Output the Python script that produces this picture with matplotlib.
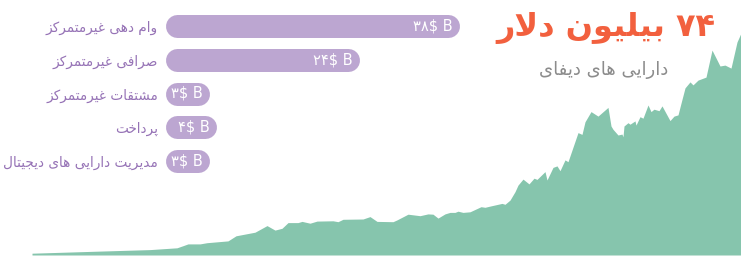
import matplotlib
matplotlib.use("Agg")
import matplotlib.pyplot as plt

# ---------------- data ----------------
# DeFi total value locked over time (time index, billions USD)
time_idx = [0, 68, 118, 145, 151, 156, 168, 175, 196, 204, 223, 235, 243, 250, 256, 266,
            270, 278, 285, 301, 306, 311, 331, 338, 345, 361, 365, 376, 388, 396, 401,
            406, 413, 418, 423, 426, 431, 438, 449, 453, 458, 470, 473, 478, 483, 486,
            491, 497, 502, 505, 513, 515, 521, 525, 528, 533, 536, 546, 550, 553, 559,
            566, 576, 579, 581, 586, 590, 591, 592, 596, 598, 603, 604, 608, 611, 616,
            619, 622, 627, 630, 638, 642, 646, 649, 653, 658, 661, 666, 674, 680, 685,
            688, 693, 699, 705, 709]
tvl = [0.6, 1.3, 1.8, 2.4, 3.1, 3.7, 3.7, 4.1, 4.7, 6.4, 7.6, 9.8, 8.3, 8.9, 10.8, 10.8,
       11.2, 10.6, 11.3, 11.4, 11.1, 11.9, 12.0, 12.8, 11.2, 11.1, 11.7, 13.6, 13.1,
       13.7, 13.6, 12.3, 13.7, 14.2, 14.2, 14.6, 14.2, 14.4, 16.1, 15.9, 16.3, 17.2,
       16.9, 18.3, 21.1, 23.3, 25.3, 23.7, 25.6, 25.2, 27.8, 25.0, 29.2, 29.7, 28.1,
       31.7, 31.1, 40.8, 40.2, 44.4, 47.8, 46.3, 49.2, 43.0, 41.9, 40.0, 40.3, 39.4,
       43.0, 44.1, 43.6, 44.7, 43.3, 46.1, 45.6, 50.0, 47.8, 48.6, 48.1, 49.7, 44.8,
       46.3, 46.7, 50.6, 55.7, 57.7, 56.7, 58.3, 59.3, 68.3, 65.0, 63.0, 63.3, 62.3,
       71.0, 74.0]

categories = ["وام دهی غیرمتمرکز", "صرافی غیرمتمرکز", "مشتقات غیرمتمرکز",
              "پرداخت", "مدیریت دارایی های دیجیتال"]
values = [38, 24, 3, 4, 3]
value_labels = ["۳۸$ B", "۲۴$ B", "۳$ B", "۴$ B", "۳$ B"]

title_text = "۷۴ بیلیون دلار"
subtitle_text = "دارایی های دیفای"

# ---------------- minimal Persian shaping ----------------
FORMS = {
    'ا': ('\uFE8D', '\uFE8E', None, None),
    'آ': ('\uFE81', '\uFE82', None, None),
    'ب': ('\uFE8F', '\uFE90', '\uFE91', '\uFE92'),
    'پ': ('\uFB56', '\uFB57', '\uFB58', '\uFB59'),
    'ت': ('\uFE95', '\uFE96', '\uFE97', '\uFE98'),
    'ث': ('\uFE99', '\uFE9A', '\uFE9B', '\uFE9C'),
    'ج': ('\uFE9D', '\uFE9E', '\uFE9F', '\uFEA0'),
    'چ': ('\uFB7A', '\uFB7B', '\uFB7C', '\uFB7D'),
    'ح': ('\uFEA1', '\uFEA2', '\uFEA3', '\uFEA4'),
    'خ': ('\uFEA5', '\uFEA6', '\uFEA7', '\uFEA8'),
    'د': ('\uFEA9', '\uFEAA', None, None),
    'ذ': ('\uFEAB', '\uFEAC', None, None),
    'ر': ('\uFEAD', '\uFEAE', None, None),
    'ز': ('\uFEAF', '\uFEB0', None, None),
    'ژ': ('\uFB8A', '\uFB8B', None, None),
    'س': ('\uFEB1', '\uFEB2', '\uFEB3', '\uFEB4'),
    'ش': ('\uFEB5', '\uFEB6', '\uFEB7', '\uFEB8'),
    'ص': ('\uFEB9', '\uFEBA', '\uFEBB', '\uFEBC'),
    'ض': ('\uFEBD', '\uFEBE', '\uFEBF', '\uFEC0'),
    'ط': ('\uFEC1', '\uFEC2', '\uFEC3', '\uFEC4'),
    'ظ': ('\uFEC5', '\uFEC6', '\uFEC7', '\uFEC8'),
    'ع': ('\uFEC9', '\uFECA', '\uFECB', '\uFECC'),
    'غ': ('\uFECD', '\uFECE', '\uFECF', '\uFED0'),
    'ف': ('\uFED1', '\uFED2', '\uFED3', '\uFED4'),
    'ق': ('\uFED5', '\uFED6', '\uFED7', '\uFED8'),
    'ک': ('\uFB8E', '\uFB8F', '\uFB90', '\uFB91'),
    'گ': ('\uFB92', '\uFB93', '\uFB94', '\uFB95'),
    'ل': ('\uFEDD', '\uFEDE', '\uFEDF', '\uFEE0'),
    'م': ('\uFEE1', '\uFEE2', '\uFEE3', '\uFEE4'),
    'ن': ('\uFEE5', '\uFEE6', '\uFEE7', '\uFEE8'),
    'ه': ('\uFEE9', '\uFEEA', '\uFEEB', '\uFEEC'),
    'و': ('\uFEED', '\uFEEE', None, None),
    'ی': ('\uFBFC', '\uFBFD', '\uFBFE', '\uFBFF'),
}
DIGITS = set('0123456789۰۱۲۳۴۵۶۷۸۹')


def persian(text):
    ch = list(text)
    n = len(ch)
    res = []
    i = 0
    while i < n:
        c = ch[i]
        if c not in FORMS:
            res.append(c)
            i += 1
            continue
        prev = ch[i - 1] if i > 0 else None
        conn_prev = prev in FORMS and FORMS[prev][2] is not None
        if c == 'ل' and i + 1 < n and ch[i + 1] == 'ا':
            res.append('\uFEFC' if conn_prev else '\uFEFB')
            i += 2
            continue
        nxt = ch[i + 1] if i + 1 < n else None
        conn_next = FORMS[c][2] is not None and nxt in FORMS
        iso, fin, ini, med = FORMS[c]
        if conn_prev and conn_next:
            res.append(med)
        elif conn_prev:
            res.append(fin)
        elif conn_next:
            res.append(ini)
        else:
            res.append(iso)
        i += 1
    res = res[::-1]
    # restore left-to-right order of digit runs
    out = []
    run = []
    for c in res:
        if c in DIGITS:
            run.append(c)
        else:
            out.extend(run[::-1])
            run = []
            out.append(c)
    out.extend(run[::-1])
    return ''.join(out)


# ---------------- figure ----------------
W, H, DPI = 741, 256, 100
fig = plt.figure(figsize=(W / DPI, H / DPI), dpi=DPI)
fig.patch.set_facecolor('white')

GREEN = '#86c5ad'
BAR = '#bca6d1'
LABEL = '#9673b6'
TITLE = '#f2603e'
SUB = '#8c8c8c'
FONT = ['DejaVu Sans']

# area chart
ax = fig.add_axes([32 / W, 1 / H, 709 / W, 255 / H])
ax.fill_between(time_idx, 0, tvl, color=GREEN, linewidth=0)
ax.set_xlim(0, 709)
ax.set_ylim(0, 85)
ax.axis('off')

# bars (top of bar area at 9 px, bottom at 178 px from the figure top)
bx = fig.add_axes([176.5 / W, 1 - 178 / H, 285.6 / W, 169 / H])
bx.set_xlim(0, 40)
bx.set_ylim(len(categories) - 0.5, -0.5)
bx.axis('off')
lw_pt = 23 * 72 / DPI
for i, (cat, v, vl) in enumerate(zip(categories, values, value_labels)):
    bx.plot([0, v], [i, i], color=BAR, linewidth=lw_pt, solid_capstyle='round',
            clip_on=False)
    bx.annotate(vl, xy=(v, i), xytext=(4.5 * 72 / DPI, 0), textcoords='offset points',
                ha='right', va='center', color='white', fontsize=10.5, family=FONT)
    bx.annotate(persian(cat), xy=(0, i), xytext=(-18.5 * 72 / DPI, -1.5),
                textcoords='offset points', ha='right', va='center',
                color=LABEL, fontsize=9.8, family=FONT)

# title / subtitle
fig.text(606 / W, 1 - 28 / H, persian(title_text), ha='center', va='center',
         color=TITLE, fontsize=23, fontweight='bold', family=FONT)
fig.text(604 / W, 1 - 70 / H, persian(subtitle_text), ha='center', va='center',
         color=SUB, fontsize=13, family=FONT)

fig.savefig('out.png', dpi=DPI, facecolor='white')
